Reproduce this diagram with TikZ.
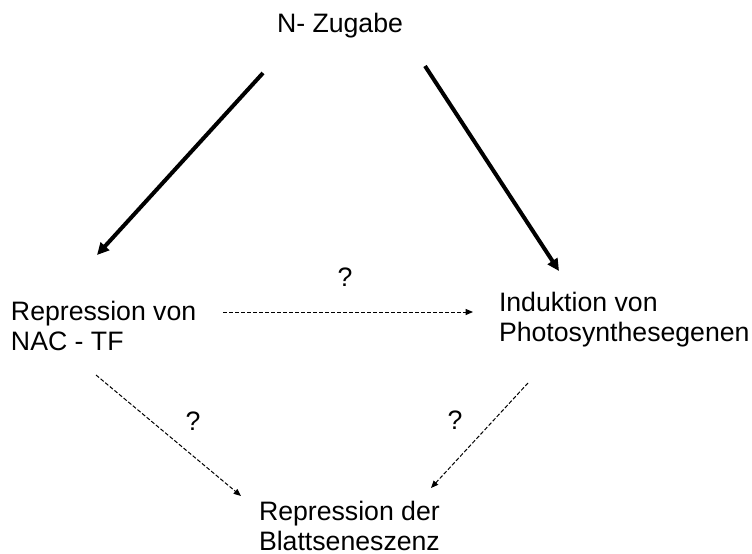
\documentclass[tikz,border=0pt]{standalone}
\usepackage{fontspec}
\setmainfont{Liberation Sans}
\usetikzlibrary{arrows.meta}
\begin{document}
\begin{tikzpicture}[x=0.75pt,y=-0.75pt,
  lbl/.style={inner sep=0pt, outer sep=0pt, align=left, font=\fontsize{20}{22.5}\selectfont},
  thickarrow/.style={line width=3pt, -{Triangle[length=9pt,width=8.5pt]}},
  dasharrow/.style={line width=0.75pt, dash pattern=on 3pt off 1.5pt, -{Triangle[length=5.5pt,width=4.5pt]}}]
\useasboundingbox (0,0) rectangle (752,553);
\node[lbl, anchor=base] (top) at (340,32) {N- Zugabe};
\node[lbl, anchor=base west] (left) at (11,350) {Repression von\\NAC - TF};
\node[lbl, anchor=base west] (right) at (499,341) {Induktion von\\Photosynthesegenen};
\node[lbl, anchor=base west] (bottom) at (259,550) {Repression der\\Blattseneszenz};
\node[lbl, anchor=base] (q1) at (345,286) {?};
\node[lbl, anchor=base] (q2) at (193,430) {?};
\node[lbl, anchor=base] (q3) at (455,429) {?};
\coordinate (a1s) at (263,73);
\coordinate (a1e) at (97,255);
\coordinate (a2s) at (425,66);
\coordinate (a2e) at (559,271);
\coordinate (a3s) at (223,312);
\coordinate (a3e) at (473,312);
\coordinate (a4s) at (96,375);
\coordinate (a4e) at (241,496);
\coordinate (a5s) at (528,383);
\coordinate (a5e) at (431,488);
\draw[thickarrow] (a1s) -- (a1e);
\draw[thickarrow] (a2s) -- (a2e);
\draw[dasharrow] (a3s) -- (a3e);
\draw[dasharrow] (a4s) -- (a4e);
\draw[dasharrow] (a5s) -- (a5e);
\end{tikzpicture}
\end{document}
